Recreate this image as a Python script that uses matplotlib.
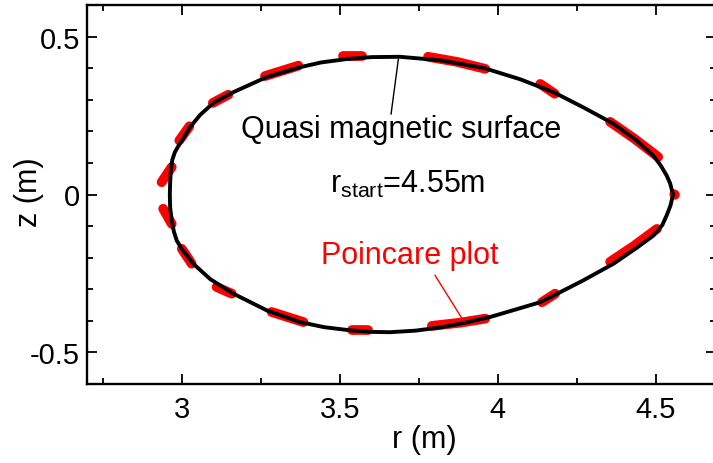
import numpy as np
import matplotlib
matplotlib.use("Agg")
import matplotlib.pyplot as plt
from matplotlib.ticker import MultipleLocator

plt.rcParams["font.family"] = ["Liberation Sans", "DejaVu Sans"]
plt.rcParams["mathtext.default"] = "regular"

# Quasi magnetic surface traced from r_start = 4.55 m (closed contour, CCW)
surface_r = [4.554, 4.545, 4.534, 4.515, 4.492, 4.440, 4.366, 4.270, 4.176,
             4.070, 3.954, 3.817, 3.690, 3.600, 3.522, 3.440, 3.374, 3.269,
             3.163, 3.100, 3.058, 3.025, 3.005, 2.990, 2.978, 2.970, 2.965,
             2.963, 2.962, 2.963, 2.968, 2.975, 2.984, 3.000, 3.036, 3.090,
             3.163, 3.269, 3.374, 3.450, 3.532, 3.600, 3.659, 3.740, 3.817,
             3.900, 3.975, 4.060, 4.134, 4.176, 4.270, 4.366, 4.440, 4.492,
             4.520, 4.534, 4.546, 4.554]
surface_z = [0.000, 0.035, 0.060, 0.092, 0.123, 0.170, 0.224, 0.276, 0.324,
             0.365, 0.401, 0.425, 0.436, 0.435, 0.429, 0.418, 0.403, 0.372,
             0.324, 0.290, 0.252, 0.212, 0.178, 0.155, 0.134, 0.110, 0.075,
             0.035, 0.000, -0.040, -0.082, -0.118, -0.146, -0.172, -0.219,
             -0.268, -0.314, -0.367, -0.404, -0.420, -0.430, -0.435, -0.436,
             -0.431, -0.421, -0.405, -0.388, -0.363, -0.341, -0.320, -0.272,
             -0.219, -0.168, -0.130, -0.097, -0.066, -0.035, 0.000]

# Poincare puncture clusters (each cluster: r list, z list)
poincare_r = [
    [4.558, 4.560],
    [4.355, 4.430, 4.507],
    [4.134, 4.180],
    [3.779, 3.870, 3.960],
    [3.510, 3.570],
    [3.263, 3.369],
    [3.098, 3.147],
    [2.992, 3.024],
    [2.936, 2.968],
    [2.941, 2.968],
    [3.000, 3.031],
    [3.110, 3.158],
    [3.284, 3.385],
    [3.538, 3.590],
    [3.791, 3.880, 3.960],
    [4.139, 4.181],
    [4.355, 4.430, 4.503],
]
poincare_z = [
    [0.001, -0.001],
    [0.230, 0.178, 0.119],
    [0.350, 0.319],
    [0.436, 0.420, 0.398],
    [0.437, 0.437],
    [0.375, 0.408],
    [0.290, 0.316],
    [0.171, 0.216],
    [0.039, 0.087],
    [-0.045, -0.093],
    [-0.172, -0.219],
    [-0.293, -0.314],
    [-0.372, -0.404],
    [-0.428, -0.428],
    [-0.416, -0.406, -0.393],
    [-0.341, -0.314],
    [-0.213, -0.163, -0.109],
]

fig = plt.figure(figsize=(7.13, 4.64), dpi=100)
ax = fig.add_axes([87 / 713, 79 / 464, 629 / 713, 379 / 464])

for r, z in zip(poincare_r, poincare_z):
    ax.plot(r, z, color="#ff0000", linewidth=7, solid_capstyle="round",
            zorder=2)
ax.plot(surface_r, surface_z, color="black", linewidth=2.8, zorder=3)

# labels with leader lines
ax.plot([3.662, 3.685], [0.255, 0.428], color="black", linewidth=1.0)
ax.text(3.694, 0.208, "Quasi magnetic surface", fontsize=22,
        ha="center", va="center")
ax.text(3.713, 0.034, "r$_{start}$=4.55m", fontsize=22,
        ha="center", va="center")
ax.plot([3.801, 3.888], [-0.256, -0.395], color="#ff0000", linewidth=1.0)
ax.text(3.72, -0.19, "Poincare plot", fontsize=22, color="#ff0000",
        ha="center", va="center")

ax.set_xlim(2.7, 4.69)
ax.set_ylim(-0.6, 0.6)
ax.xaxis.set_minor_locator(MultipleLocator(0.25))
ax.yaxis.set_minor_locator(MultipleLocator(0.1))
ax.set_xticks([3, 3.5, 4, 4.5])
ax.set_xticklabels(["3", "3.5", "4", "4.5"])
ax.set_yticks([-0.5, 0, 0.5])
ax.set_yticklabels(["-0.5", "0", "0.5"])
ax.tick_params(which="both", direction="in", top=True, right=True,
               labelsize=21, width=1.3)
ax.tick_params(which="major", length=7)
ax.tick_params(which="minor", length=4)
ax.tick_params(axis="x", pad=8)
ax.tick_params(axis="y", pad=5)
for s in ax.spines.values():
    s.set_linewidth(1.7)

fig.text(424 / 713, 0.052, "r (m)", fontsize=22, ha="center", va="center")
fig.text(0.040, 0.585, "z (m)", fontsize=22, ha="center", va="center",
         rotation=90)

fig.savefig("out.png", dpi=100)
